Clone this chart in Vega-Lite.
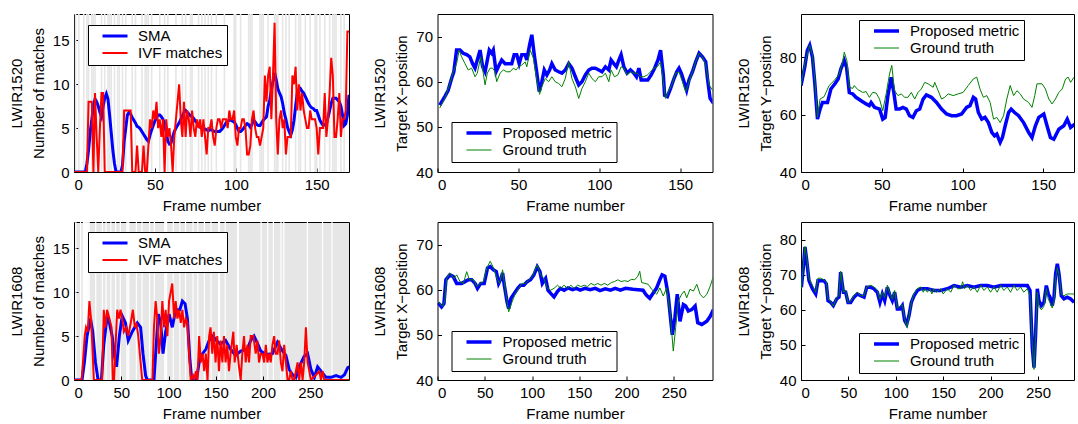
{
  "$schema": "https://vega.github.io/schema/vega-lite/v6.json",
  "padding": {"left": 8, "top": 12, "right": 0, "bottom": 0},
  "background": "white",
  "config": {
    "font": "Liberation Sans",
    "view": {"stroke": "black", "strokeWidth": 1},
    "axis": {"grid": false, "domain": false, "labelFont": "Liberation Sans", "labelFontSize": 15, "labelColor": "#000", "titleFont": "Liberation Sans", "titleFontSize": 15, "titleFontWeight": "normal", "titleColor": "#000", "tickColor": "#000", "tickSize": -4, "labelPadding": 9},
    "axisX": {"titlePadding": 6},
    "axisY": {"titlePadding": 6, "titleLineHeight": 22},
    "legend": {"labelFont": "Liberation Sans", "labelFontSize": 15, "labelColor": "#000", "strokeColor": "#000", "fillColor": "#fff", "padding": 4, "symbolSize": 625, "symbolType": "stroke", "symbolOffset": 9, "labelOffset": 9, "rowPadding": 2, "clipHeight": 14}
  },
  "datasets": {
    "g1520": [{"f":1},{"f":3},{"f":6},{"f":8},{"f":9},{"f":11},{"f":12},{"f":13},{"f":17},{"f":19},{"f":21},{"f":22},{"f":23},{"f":25},{"f":27},{"f":28},{"f":30},{"f":32},{"f":36},{"f":38},{"f":42},{"f":44},{"f":45},{"f":46},{"f":48},{"f":53},{"f":56},{"f":58},{"f":63},{"f":67},{"f":69},{"f":72},{"f":73},{"f":77},{"f":79},{"f":81},{"f":83},{"f":85},{"f":88},{"f":93},{"f":99},{"f":100},{"f":103},{"f":108},{"f":109},{"f":110},{"f":115},{"f":116},{"f":117},{"f":120},{"f":124},{"f":125},{"f":126},{"f":129},{"f":131},{"f":133},{"f":137},{"f":139},{"f":140},{"f":143},{"f":146},{"f":149},{"f":150},{"f":152},{"f":155},{"f":158},{"f":160},{"f":161},{"f":162},{"f":165},{"f":167}],
    "w1608": [{"f":2},{"f":7},{"f":10},{"f":11},{"f":12},{"f":13},{"f":14},{"f":15},{"f":16},{"f":23},{"f":30},{"f":34},{"f":39},{"f":44},{"f":49},{"f":56},{"f":57},{"f":58},{"f":66},{"f":72},{"f":80},{"f":85},{"f":96},{"f":97},{"f":98},{"f":105},{"f":112},{"f":118},{"f":126},{"f":131},{"f":138},{"f":145},{"f":153},{"f":154},{"f":160},{"f":173},{"f":174},{"f":198},{"f":205},{"f":211},{"f":219},{"f":222},{"f":247},{"f":263},{"f":273}],
    "m1520": [
      {"f":0,"SMA":0,"IVF matches":0},{"f":1,"SMA":0,"IVF matches":0},{"f":2,"SMA":0,"IVF matches":0},{"f":3,"SMA":0,"IVF matches":0},{"f":4,"SMA":0,"IVF matches":0},{"f":5,"SMA":0,"IVF matches":0},{"f":6,"SMA":0,"IVF matches":0},{"f":7,"SMA":0,"IVF matches":0},{"f":8,"SMA":1,"IVF matches":0},{"f":9,"SMA":2.5,"IVF matches":8},
      {"f":10,"SMA":4.5,"IVF matches":8},{"f":11,"SMA":6,"IVF matches":8},{"f":12,"SMA":7.5,"IVF matches":0},{"f":13,"SMA":8.3,"IVF matches":9},{"f":14,"SMA":8,"IVF matches":4},{"f":15,"SMA":7.5,"IVF matches":0},{"f":16,"SMA":6.8,"IVF matches":5},{"f":17,"SMA":6.3,"IVF matches":9},{"f":18,"SMA":7.5,"IVF matches":9},{"f":19,"SMA":8.4,"IVF matches":0},
      {"f":20,"SMA":8.9,"IVF matches":0},{"f":21,"SMA":8.3,"IVF matches":0},{"f":22,"SMA":6.5,"IVF matches":0},{"f":23,"SMA":4.5,"IVF matches":0},{"f":24,"SMA":2.5,"IVF matches":0},{"f":25,"SMA":1,"IVF matches":0},{"f":26,"SMA":0,"IVF matches":0},{"f":27,"SMA":0,"IVF matches":0},{"f":28,"SMA":0,"IVF matches":0},{"f":29,"SMA":0,"IVF matches":0},
      {"f":30,"SMA":0.8,"IVF matches":0},{"f":31,"SMA":3.5,"IVF matches":7},{"f":32,"SMA":5,"IVF matches":7},{"f":33,"SMA":6.5,"IVF matches":7},{"f":34,"SMA":6.8,"IVF matches":7},{"f":35,"SMA":6.6,"IVF matches":7},{"f":36,"SMA":6.2,"IVF matches":0},{"f":37,"SMA":5.9,"IVF matches":0},{"f":38,"SMA":5.6,"IVF matches":0},{"f":39,"SMA":5.2,"IVF matches":3},
      {"f":40,"SMA":5.1,"IVF matches":0},{"f":41,"SMA":4.9,"IVF matches":0},{"f":42,"SMA":4.6,"IVF matches":0},{"f":43,"SMA":4.3,"IVF matches":3},{"f":44,"SMA":4,"IVF matches":0},{"f":45,"SMA":3.7,"IVF matches":0},{"f":46,"SMA":3.5,"IVF matches":3},{"f":47,"SMA":4.2,"IVF matches":6},{"f":48,"SMA":4.8,"IVF matches":5},{"f":49,"SMA":5.3,"IVF matches":7},
      {"f":50,"SMA":5.8,"IVF matches":6},{"f":51,"SMA":6.2,"IVF matches":8},{"f":52,"SMA":6.5,"IVF matches":5},{"f":53,"SMA":6.5,"IVF matches":6},{"f":54,"SMA":6.3,"IVF matches":4},{"f":55,"SMA":6,"IVF matches":6},{"f":56,"SMA":5.5,"IVF matches":0},{"f":57,"SMA":4.5,"IVF matches":6},{"f":58,"SMA":3.5,"IVF matches":4},{"f":59,"SMA":3.2,"IVF matches":5},
      {"f":60,"SMA":3.3,"IVF matches":3},{"f":61,"SMA":4,"IVF matches":0},{"f":62,"SMA":4.6,"IVF matches":4},{"f":63,"SMA":5,"IVF matches":6},{"f":64,"SMA":5.3,"IVF matches":8},{"f":65,"SMA":5.6,"IVF matches":10},{"f":66,"SMA":6,"IVF matches":6},{"f":67,"SMA":6.4,"IVF matches":4},{"f":68,"SMA":6.8,"IVF matches":8},{"f":69,"SMA":7,"IVF matches":4},
      {"f":70,"SMA":6.8,"IVF matches":7},{"f":71,"SMA":6.6,"IVF matches":6},{"f":72,"SMA":6.4,"IVF matches":4},{"f":73,"SMA":6.3,"IVF matches":7},{"f":74,"SMA":6.1,"IVF matches":5},{"f":75,"SMA":5.8,"IVF matches":4},{"f":76,"SMA":5.6,"IVF matches":6},{"f":77,"SMA":5.3,"IVF matches":5},{"f":78,"SMA":5.1,"IVF matches":6},{"f":79,"SMA":5,"IVF matches":4},
      {"f":80,"SMA":5,"IVF matches":6},{"f":81,"SMA":4.9,"IVF matches":4},{"f":82,"SMA":4.8,"IVF matches":2},{"f":83,"SMA":4.7,"IVF matches":5},{"f":84,"SMA":4.8,"IVF matches":5},{"f":85,"SMA":4.8,"IVF matches":6},{"f":86,"SMA":4.7,"IVF matches":4},{"f":87,"SMA":4.6,"IVF matches":3},{"f":88,"SMA":4.6,"IVF matches":5},{"f":89,"SMA":4.6,"IVF matches":6},
      {"f":90,"SMA":4.6,"IVF matches":6},{"f":91,"SMA":4.8,"IVF matches":5},{"f":92,"SMA":5,"IVF matches":6},{"f":93,"SMA":5.3,"IVF matches":6},{"f":94,"SMA":5.6,"IVF matches":6},{"f":95,"SMA":5.8,"IVF matches":5},{"f":96,"SMA":5.9,"IVF matches":7},{"f":97,"SMA":5.9,"IVF matches":6},{"f":98,"SMA":5.8,"IVF matches":6},{"f":99,"SMA":5.7,"IVF matches":7},
      {"f":100,"SMA":5.4,"IVF matches":4},{"f":101,"SMA":5,"IVF matches":3},{"f":102,"SMA":4.6,"IVF matches":5},{"f":103,"SMA":4.6,"IVF matches":5},{"f":104,"SMA":4.8,"IVF matches":6},{"f":105,"SMA":5,"IVF matches":6},{"f":106,"SMA":5.3,"IVF matches":5},{"f":107,"SMA":5.5,"IVF matches":2},{"f":108,"SMA":5.4,"IVF matches":2},{"f":109,"SMA":5.1,"IVF matches":3},
      {"f":110,"SMA":5.4,"IVF matches":6},{"f":111,"SMA":5.9,"IVF matches":7},{"f":112,"SMA":5.7,"IVF matches":5},{"f":113,"SMA":5.4,"IVF matches":4},{"f":114,"SMA":5.3,"IVF matches":4},{"f":115,"SMA":5.3,"IVF matches":3},{"f":116,"SMA":5.6,"IVF matches":4},{"f":117,"SMA":5.9,"IVF matches":5},{"f":118,"SMA":6.1,"IVF matches":11},{"f":119,"SMA":6.3,"IVF matches":8},
      {"f":120,"SMA":7.5,"IVF matches":11},{"f":121,"SMA":8.2,"IVF matches":12},{"f":122,"SMA":9.3,"IVF matches":6},{"f":123,"SMA":10.3,"IVF matches":11},{"f":124,"SMA":11.3,"IVF matches":17},{"f":125,"SMA":10.5,"IVF matches":6},{"f":126,"SMA":9.5,"IVF matches":2},{"f":127,"SMA":9,"IVF matches":6},{"f":128,"SMA":8.6,"IVF matches":7},{"f":129,"SMA":7.8,"IVF matches":5},
      {"f":130,"SMA":6.7,"IVF matches":6},{"f":131,"SMA":6,"IVF matches":2},{"f":132,"SMA":5.1,"IVF matches":4},{"f":133,"SMA":4.6,"IVF matches":4},{"f":134,"SMA":4.2,"IVF matches":4},{"f":135,"SMA":4.8,"IVF matches":11},{"f":136,"SMA":5.9,"IVF matches":10},{"f":137,"SMA":7.5,"IVF matches":12},{"f":138,"SMA":9,"IVF matches":7},{"f":139,"SMA":9.3,"IVF matches":10},
      {"f":140,"SMA":9.5,"IVF matches":7},{"f":141,"SMA":9.2,"IVF matches":9},{"f":142,"SMA":9,"IVF matches":7},{"f":143,"SMA":8.6,"IVF matches":6},{"f":144,"SMA":8.2,"IVF matches":5},{"f":145,"SMA":7.8,"IVF matches":5},{"f":146,"SMA":7.5,"IVF matches":7},{"f":147,"SMA":7.3,"IVF matches":6},{"f":148,"SMA":7.2,"IVF matches":6},{"f":149,"SMA":7,"IVF matches":6},
      {"f":150,"SMA":7,"IVF matches":5},{"f":151,"SMA":6.5,"IVF matches":2},{"f":152,"SMA":5.9,"IVF matches":5},{"f":153,"SMA":5.6,"IVF matches":5},{"f":154,"SMA":5.3,"IVF matches":5},{"f":155,"SMA":5.4,"IVF matches":9},{"f":156,"SMA":5.5,"IVF matches":4},{"f":157,"SMA":6.2,"IVF matches":6},{"f":158,"SMA":7,"IVF matches":9},{"f":159,"SMA":7.8,"IVF matches":13},
      {"f":160,"SMA":8.4,"IVF matches":11},{"f":161,"SMA":8.4,"IVF matches":4},{"f":162,"SMA":8.4,"IVF matches":4},{"f":163,"SMA":8.2,"IVF matches":6},{"f":164,"SMA":8,"IVF matches":9},{"f":165,"SMA":7.5,"IVF matches":4},{"f":166,"SMA":6.5,"IVF matches":6},{"f":167,"SMA":5.3,"IVF matches":6},{"f":168,"SMA":5.5,"IVF matches":7},{"f":169,"SMA":6.5,"IVF matches":16},{"f":170,"SMA":8.8,"IVF matches":16}
    ],
    "m1608": [
      {"f":0,"SMA":0},{"f":8.5,"SMA":0},{"f":11,"SMA":2},{"f":13.8,"SMA":5},{"f":17.4,"SMA":7},{"f":19.8,"SMA":5.5},{"f":22.7,"SMA":2},{"f":25.5,"SMA":0},{"f":29,"SMA":0},{"f":31.5,"SMA":4},{"f":35,"SMA":7.2},{"f":37.5,"SMA":6.5},{"f":40.4,"SMA":5},{"f":43.2,"SMA":2.5},{"f":45,"SMA":1.5},{"f":48,"SMA":5},{"f":51,"SMA":7.3},{"f":54.5,"SMA":6.5},{"f":57.4,"SMA":4.5},{"f":61.6,"SMA":5.5},{"f":67,"SMA":6.5},{"f":70.5,"SMA":6},{"f":73,"SMA":3},{"f":75.8,"SMA":0.5},{"f":77.5,"SMA":0},{"f":84.6,"SMA":0},{"f":86.4,"SMA":3},{"f":89.2,"SMA":7.5},{"f":91.7,"SMA":6.5},{"f":94.2,"SMA":3},{"f":97,"SMA":5.5},{"f":100.6,"SMA":7.5},{"f":104,"SMA":6},{"f":107.6,"SMA":8},{"f":112,"SMA":8},{"f":114.7,"SMA":9},{"f":117.5,"SMA":8.7},{"f":120,"SMA":7},{"f":122.5,"SMA":2.5},{"f":124.6,"SMA":0},{"f":129.6,"SMA":0},{"f":132.4,"SMA":2},{"f":136,"SMA":3},{"f":139.5,"SMA":3.5},{"f":143,"SMA":4.5},{"f":147,"SMA":5},{"f":151.6,"SMA":4.4},{"f":155,"SMA":4.1},{"f":160.4,"SMA":4.5},{"f":165.7,"SMA":3.5},{"f":171,"SMA":2.8},{"f":176.4,"SMA":3.3},{"f":183.4,"SMA":3.5},{"f":187,"SMA":4.5},{"f":190.5,"SMA":5},{"f":194,"SMA":4.2},{"f":197.6,"SMA":3.3},{"f":203,"SMA":2.9},{"f":210,"SMA":3},{"f":215.3,"SMA":4.3},{"f":220.6,"SMA":3.3},{"f":224.2,"SMA":2.8},{"f":227.7,"SMA":1.2},{"f":231.3,"SMA":0.6},{"f":234.8,"SMA":0.3},{"f":238.3,"SMA":1.5},{"f":243.6,"SMA":2.7},{"f":247.2,"SMA":3},{"f":250.7,"SMA":1.2},{"f":254.3,"SMA":0.3},{"f":257.8,"SMA":1.5},{"f":261.4,"SMA":1},{"f":266.7,"SMA":0.3},{"f":272,"SMA":0.3},{"f":277.3,"SMA":0.5},{"f":282.6,"SMA":0.3},{"f":286.2,"SMA":0.6},{"f":289.7,"SMA":1.4},{"f":292,"SMA":1.5},
      {"f":0,"IVF matches":0},{"f":8,"IVF matches":0},{"f":9.5,"IVF matches":2},{"f":11.3,"IVF matches":5},{"f":12.7,"IVF matches":6},{"f":14.5,"IVF matches":5.5},{"f":16.3,"IVF matches":9},{"f":18,"IVF matches":7},{"f":19.8,"IVF matches":3},{"f":21,"IVF matches":0},{"f":29.7,"IVF matches":0},{"f":31.5,"IVF matches":8},{"f":33.3,"IVF matches":6},{"f":35,"IVF matches":8},{"f":37.5,"IVF matches":7},{"f":39.7,"IVF matches":6},{"f":41,"IVF matches":0},{"f":42.5,"IVF matches":0},{"f":44,"IVF matches":4},{"f":45.7,"IVF matches":8},{"f":47.5,"IVF matches":7},{"f":49.2,"IVF matches":8},{"f":51,"IVF matches":7},{"f":52.8,"IVF matches":5.5},{"f":55.2,"IVF matches":6},{"f":57.4,"IVF matches":5},{"f":60,"IVF matches":6.5},{"f":62.3,"IVF matches":8},{"f":64.4,"IVF matches":6},{"f":65.9,"IVF matches":6.5},{"f":68,"IVF matches":5},{"f":70.5,"IVF matches":2},{"f":72.2,"IVF matches":0},{"f":83,"IVF matches":0},{"f":84.6,"IVF matches":6},{"f":86.4,"IVF matches":9},{"f":88.2,"IVF matches":7},{"f":89.9,"IVF matches":3},{"f":91.7,"IVF matches":5},{"f":93.5,"IVF matches":9},{"f":95.3,"IVF matches":6},{"f":97,"IVF matches":8},{"f":98.8,"IVF matches":5},{"f":100.6,"IVF matches":9},{"f":102.3,"IVF matches":10},{"f":104,"IVF matches":11},{"f":105.9,"IVF matches":7},{"f":107.6,"IVF matches":9},{"f":109.4,"IVF matches":7},{"f":111.2,"IVF matches":8},{"f":113,"IVF matches":6.5},{"f":114.7,"IVF matches":8},{"f":116.5,"IVF matches":6},{"f":118.3,"IVF matches":7},{"f":120,"IVF matches":6.5},{"f":121.8,"IVF matches":3},{"f":123.6,"IVF matches":0},{"f":126,"IVF matches":0.5},{"f":127,"IVF matches":0},{"f":129,"IVF matches":1},{"f":130.7,"IVF matches":0},{"f":132.4,"IVF matches":5},{"f":134.2,"IVF matches":2},{"f":136,"IVF matches":3},{"f":137.8,"IVF matches":1},{"f":139.5,"IVF matches":3},{"f":141.3,"IVF matches":0},{"f":143,"IVF matches":5},{"f":144.5,"IVF matches":6},{"f":146.3,"IVF matches":3},{"f":148,"IVF matches":5.5},{"f":149.8,"IVF matches":2},{"f":151.6,"IVF matches":5},{"f":153.4,"IVF matches":1},{"f":155.1,"IVF matches":4.5},{"f":157,"IVF matches":2},{"f":158.7,"IVF matches":5},{"f":160.4,"IVF matches":2},{"f":162.2,"IVF matches":4},{"f":164,"IVF matches":1},{"f":165.7,"IVF matches":3},{"f":168.6,"IVF matches":5.5},{"f":170,"IVF matches":2},{"f":172.1,"IVF matches":4},{"f":174.6,"IVF matches":1.5},{"f":176.4,"IVF matches":0},{"f":178.1,"IVF matches":3},{"f":179.9,"IVF matches":5},{"f":181.7,"IVF matches":2},{"f":183.5,"IVF matches":4},{"f":185.2,"IVF matches":2},{"f":187,"IVF matches":5},{"f":189.8,"IVF matches":5},{"f":192.3,"IVF matches":3},{"f":194,"IVF matches":4.5},{"f":195.8,"IVF matches":2},{"f":197.6,"IVF matches":3},{"f":199.4,"IVF matches":3},{"f":201.2,"IVF matches":2},{"f":203,"IVF matches":4},{"f":204.7,"IVF matches":2},{"f":206.5,"IVF matches":3},{"f":208.2,"IVF matches":2},{"f":210,"IVF matches":4},{"f":211.8,"IVF matches":5},{"f":213.5,"IVF matches":3},{"f":215.3,"IVF matches":3},{"f":217.1,"IVF matches":4.5},{"f":218.9,"IVF matches":2},{"f":220.6,"IVF matches":1},{"f":222.4,"IVF matches":4},{"f":224.2,"IVF matches":2},{"f":226,"IVF matches":0},{"f":227.7,"IVF matches":0},{"f":229.5,"IVF matches":1},{"f":231.3,"IVF matches":0},{"f":233,"IVF matches":0},{"f":234.8,"IVF matches":1},{"f":236.6,"IVF matches":2},{"f":238.3,"IVF matches":0},{"f":240.1,"IVF matches":2},{"f":241.9,"IVF matches":0},{"f":243.6,"IVF matches":2},{"f":245.4,"IVF matches":6},{"f":247.2,"IVF matches":2},{"f":249,"IVF matches":1},{"f":250.7,"IVF matches":0},{"f":259.6,"IVF matches":1},{"f":261.4,"IVF matches":0},{"f":263.1,"IVF matches":1},{"f":264.9,"IVF matches":0},{"f":292,"IVF matches":0}
    ],
    "x1520": [
      {"f":1.4,"Proposed metric":54.8},{"f":4.5,"Proposed metric":56.7},{"f":6.6,"Proposed metric":58.1},{"f":8.7,"Proposed metric":60.7},{"f":10.1,"Proposed metric":62.2},{"f":11.8,"Proposed metric":67},{"f":13.9,"Proposed metric":67},{"f":15.9,"Proposed metric":66.3},{"f":18,"Proposed metric":66},{"f":20,"Proposed metric":65.5},{"f":21.7,"Proposed metric":64},{"f":23.2,"Proposed metric":63},{"f":24.6,"Proposed metric":64.8},{"f":26.3,"Proposed metric":67},{"f":27.9,"Proposed metric":63.3},{"f":29.4,"Proposed metric":62.2},{"f":30.8,"Proposed metric":64.8},{"f":32,"Proposed metric":67},{"f":33.5,"Proposed metric":66.3},{"f":34.5,"Proposed metric":67},{"f":36.2,"Proposed metric":62.2},{"f":37.6,"Proposed metric":63.3},{"f":39.7,"Proposed metric":64.8},{"f":41.8,"Proposed metric":64},{"f":43.8,"Proposed metric":64},{"f":45.9,"Proposed metric":64},{"f":47.4,"Proposed metric":66},{"f":49,"Proposed metric":66},{"f":50.5,"Proposed metric":64},{"f":52.1,"Proposed metric":66},{"f":54.2,"Proposed metric":66},{"f":55.2,"Proposed metric":64.8},{"f":56.9,"Proposed metric":68.1},{"f":58.3,"Proposed metric":70.4},{"f":59.8,"Proposed metric":66},{"f":61.4,"Proposed metric":61.9},{"f":62.9,"Proposed metric":57.8},{"f":64.5,"Proposed metric":60},{"f":66,"Proposed metric":62.6},{"f":67.6,"Proposed metric":61.5},{"f":69.3,"Proposed metric":62.6},{"f":70.7,"Proposed metric":64},{"f":72.8,"Proposed metric":62.6},{"f":74.9,"Proposed metric":62.2},{"f":76.9,"Proposed metric":61.9},{"f":79,"Proposed metric":62.6},{"f":81.1,"Proposed metric":64},{"f":83.1,"Proposed metric":63},{"f":85.2,"Proposed metric":61.1},{"f":87.3,"Proposed metric":59.3},{"f":89.3,"Proposed metric":60},{"f":91.4,"Proposed metric":61.5},{"f":93.5,"Proposed metric":62.6},{"f":95.5,"Proposed metric":63},{"f":97.6,"Proposed metric":63},{"f":99.7,"Proposed metric":62.6},{"f":101.7,"Proposed metric":62.2},{"f":103.8,"Proposed metric":63.3},{"f":105.9,"Proposed metric":62.6},{"f":107.3,"Proposed metric":64.8},{"f":109,"Proposed metric":64},{"f":110.6,"Proposed metric":63.3},{"f":112.1,"Proposed metric":64.8},{"f":113.5,"Proposed metric":66},{"f":115.2,"Proposed metric":63.3},{"f":117.2,"Proposed metric":61.9},{"f":119.3,"Proposed metric":62.6},{"f":121.4,"Proposed metric":61.9},{"f":123,"Proposed metric":61.1},{"f":124.5,"Proposed metric":63},{"f":125.9,"Proposed metric":60.4},{"f":128,"Proposed metric":60.4},{"f":130,"Proposed metric":60.4},{"f":132.1,"Proposed metric":61.5},{"f":134.2,"Proposed metric":63},{"f":136.3,"Proposed metric":64.8},{"f":137.9,"Proposed metric":67},{"f":139.6,"Proposed metric":61.5},{"f":140.4,"Proposed metric":57},{"f":142.1,"Proposed metric":56.7},{"f":144.1,"Proposed metric":58.5},{"f":146.2,"Proposed metric":60.7},{"f":147.9,"Proposed metric":62.2},{"f":149.3,"Proposed metric":63},{"f":150.7,"Proposed metric":61.9},{"f":152.4,"Proposed metric":60},{"f":154,"Proposed metric":58.1},{"f":155.5,"Proposed metric":60.4},{"f":157.6,"Proposed metric":62.2},{"f":159.6,"Proposed metric":64.4},{"f":161.7,"Proposed metric":66.3},{"f":163.8,"Proposed metric":65.5},{"f":165.8,"Proposed metric":64.4},{"f":166.9,"Proposed metric":60.7},{"f":168.5,"Proposed metric":56.3},{"f":170.6,"Proposed metric":55.2},
      {"f":1.4,"Ground truth":54.2},{"f":4.5,"Ground truth":56.3},{"f":7.7,"Ground truth":59.6},{"f":9.7,"Ground truth":62.2},{"f":11.8,"Ground truth":64},{"f":13.4,"Ground truth":67},{"f":14.9,"Ground truth":65.5},{"f":17,"Ground truth":64},{"f":19,"Ground truth":62.6},{"f":21.1,"Ground truth":63},{"f":23.2,"Ground truth":61.1},{"f":24.6,"Ground truth":61.9},{"f":26.7,"Ground truth":65.5},{"f":28.3,"Ground truth":61.9},{"f":29.4,"Ground truth":59.3},{"f":30.8,"Ground truth":61.9},{"f":32.5,"Ground truth":63},{"f":34.1,"Ground truth":63},{"f":35.6,"Ground truth":62.2},{"f":36.6,"Ground truth":60},{"f":38.7,"Ground truth":61.9},{"f":40.7,"Ground truth":62.6},{"f":42.8,"Ground truth":62.2},{"f":44.9,"Ground truth":62.2},{"f":46.9,"Ground truth":63},{"f":48.6,"Ground truth":62.6},{"f":50,"Ground truth":63.3},{"f":52.1,"Ground truth":63.7},{"f":54.2,"Ground truth":64.4},{"f":55.2,"Ground truth":63.3},{"f":57.3,"Ground truth":67},{"f":59.3,"Ground truth":65.2},{"f":61.4,"Ground truth":60.4},{"f":63.1,"Ground truth":57.2},{"f":64.5,"Ground truth":58.9},{"f":66.6,"Ground truth":60.7},{"f":68.7,"Ground truth":60},{"f":70.7,"Ground truth":61.1},{"f":72.8,"Ground truth":60},{"f":74.9,"Ground truth":59.6},{"f":76.9,"Ground truth":58.9},{"f":79,"Ground truth":60.7},{"f":81.1,"Ground truth":64.4},{"f":83.1,"Ground truth":60.7},{"f":85.2,"Ground truth":58.9},{"f":87.3,"Ground truth":56.3},{"f":89.3,"Ground truth":58.5},{"f":91.4,"Ground truth":60},{"f":93.5,"Ground truth":61.9},{"f":95.5,"Ground truth":60.7},{"f":97.6,"Ground truth":60},{"f":99.7,"Ground truth":61.1},{"f":101.7,"Ground truth":61.1},{"f":103.8,"Ground truth":61.9},{"f":105.9,"Ground truth":60},{"f":107.3,"Ground truth":62.6},{"f":109.4,"Ground truth":61.1},{"f":111.5,"Ground truth":61.5},{"f":113.5,"Ground truth":63.3},{"f":115.2,"Ground truth":63},{"f":117.2,"Ground truth":61.5},{"f":119.3,"Ground truth":62.2},{"f":121.4,"Ground truth":61.9},{"f":123.4,"Ground truth":61.9},{"f":125.5,"Ground truth":61.1},{"f":127.6,"Ground truth":61.1},{"f":129.7,"Ground truth":61.5},{"f":131.7,"Ground truth":62.2},{"f":133.8,"Ground truth":63},{"f":135.9,"Ground truth":63.3},{"f":137.9,"Ground truth":64.4},{"f":139.6,"Ground truth":60},{"f":141,"Ground truth":56.3},{"f":143.1,"Ground truth":58.1},{"f":145.2,"Ground truth":59.6},{"f":147.2,"Ground truth":61.9},{"f":149.3,"Ground truth":62.2},{"f":151.4,"Ground truth":60},{"f":153.4,"Ground truth":57.8},{"f":155.5,"Ground truth":60},{"f":157.6,"Ground truth":62.2},{"f":159.6,"Ground truth":64.4},{"f":161.7,"Ground truth":66.3},{"f":163.8,"Ground truth":65.5},{"f":165.8,"Ground truth":63.7},{"f":167.9,"Ground truth":59.3},{"f":170.6,"Ground truth":57.8}
    ],
    "y1520": [
      {"f":0,"Proposed metric":70.1},{"f":2.3,"Proposed metric":76.5},{"f":3.9,"Proposed metric":82.3},{"f":5.4,"Proposed metric":84.1},{"f":7.1,"Proposed metric":80},{"f":8.5,"Proposed metric":71.2},{"f":10.2,"Proposed metric":58.4},{"f":11.8,"Proposed metric":61.9},{"f":13.3,"Proposed metric":64.2},{"f":16.4,"Proposed metric":64.2},{"f":18.5,"Proposed metric":68.9},{"f":21,"Proposed metric":70.7},{"f":23,"Proposed metric":72.4},{"f":24.7,"Proposed metric":75.9},{"f":26.8,"Proposed metric":78.8},{"f":28.2,"Proposed metric":76.5},{"f":29.9,"Proposed metric":67.7},{"f":32,"Proposed metric":67.2},{"f":34,"Proposed metric":66},{"f":37.2,"Proposed metric":64.8},{"f":40.3,"Proposed metric":63.7},{"f":42.3,"Proposed metric":63.1},{"f":43.4,"Proposed metric":64.2},{"f":45.5,"Proposed metric":62.5},{"f":48.6,"Proposed metric":61.9},{"f":50.6,"Proposed metric":58.4},{"f":52.1,"Proposed metric":59},{"f":53.8,"Proposed metric":66.6},{"f":55.8,"Proposed metric":73},{"f":57.3,"Proposed metric":68.3},{"f":58.9,"Proposed metric":61.9},{"f":61,"Proposed metric":61.9},{"f":63.1,"Proposed metric":62.5},{"f":65.2,"Proposed metric":61.9},{"f":67.2,"Proposed metric":59.6},{"f":69.3,"Proposed metric":59},{"f":71.4,"Proposed metric":61.3},{"f":73.5,"Proposed metric":61.9},{"f":75.6,"Proposed metric":65.4},{"f":77.6,"Proposed metric":66.8},{"f":80.7,"Proposed metric":66},{"f":83.9,"Proposed metric":64.2},{"f":87,"Proposed metric":61.9},{"f":90.1,"Proposed metric":60.2},{"f":93.2,"Proposed metric":59.6},{"f":96.3,"Proposed metric":59.6},{"f":99.4,"Proposed metric":60.2},{"f":102.5,"Proposed metric":62.5},{"f":104.6,"Proposed metric":63.1},{"f":106.7,"Proposed metric":66},{"f":108.1,"Proposed metric":65.4},{"f":109.8,"Proposed metric":60.7},{"f":111.9,"Proposed metric":58.4},{"f":113.9,"Proposed metric":59},{"f":116,"Proposed metric":57.2},{"f":118.1,"Proposed metric":53.8},{"f":119.8,"Proposed metric":52.6},{"f":121.2,"Proposed metric":53.2},{"f":123.3,"Proposed metric":50.3},{"f":124.7,"Proposed metric":52},{"f":126.4,"Proposed metric":56.1},{"f":128.5,"Proposed metric":60.7},{"f":130.1,"Proposed metric":61.9},{"f":132.2,"Proposed metric":60.7},{"f":134.7,"Proposed metric":59.6},{"f":137.8,"Proposed metric":57.2},{"f":140.9,"Proposed metric":53.8},{"f":143,"Proposed metric":52},{"f":145.1,"Proposed metric":56.1},{"f":147.2,"Proposed metric":59},{"f":150.3,"Proposed metric":60.2},{"f":152.3,"Proposed metric":56.1},{"f":154.4,"Proposed metric":52},{"f":156.5,"Proposed metric":51.4},{"f":159.6,"Proposed metric":54.9},{"f":162.7,"Proposed metric":56.1},{"f":164.8,"Proposed metric":58.4},{"f":166.9,"Proposed metric":55.5},{"f":169.6,"Proposed metric":56.7},
      {"f":0,"Ground truth":70.1},{"f":2.3,"Ground truth":77.6},{"f":5.4,"Ground truth":84.1},{"f":7.1,"Ground truth":80.6},{"f":8.7,"Ground truth":71.2},{"f":10.2,"Ground truth":59},{"f":11.8,"Ground truth":65.4},{"f":14.3,"Ground truth":66.2},{"f":17.4,"Ground truth":70.1},{"f":20.5,"Ground truth":71.8},{"f":23.7,"Ground truth":74.1},{"f":25.7,"Ground truth":78.2},{"f":26.8,"Ground truth":81.7},{"f":28.4,"Ground truth":78.8},{"f":29.9,"Ground truth":69.5},{"f":32,"Ground truth":69.1},{"f":33,"Ground truth":70.1},{"f":35.1,"Ground truth":68.7},{"f":38.2,"Ground truth":67.7},{"f":40.3,"Ground truth":68},{"f":42.3,"Ground truth":66},{"f":44.4,"Ground truth":67.7},{"f":46.5,"Ground truth":67.5},{"f":48.6,"Ground truth":65.4},{"f":50.6,"Ground truth":61.3},{"f":52.7,"Ground truth":67.2},{"f":54.8,"Ground truth":74.1},{"f":56.2,"Ground truth":77.1},{"f":57.9,"Ground truth":68.3},{"f":60,"Ground truth":66.6},{"f":62.1,"Ground truth":67.2},{"f":64.1,"Ground truth":66},{"f":66.2,"Ground truth":66},{"f":68.3,"Ground truth":67.7},{"f":70.4,"Ground truth":65.4},{"f":72.4,"Ground truth":67.7},{"f":74.5,"Ground truth":68.9},{"f":76.6,"Ground truth":71.2},{"f":78.7,"Ground truth":70.7},{"f":81.8,"Ground truth":69.5},{"f":82.8,"Ground truth":71.2},{"f":84.9,"Ground truth":68.3},{"f":87,"Ground truth":65.4},{"f":89,"Ground truth":66},{"f":91.1,"Ground truth":67.2},{"f":94.2,"Ground truth":66.6},{"f":97.3,"Ground truth":67.2},{"f":100.4,"Ground truth":67.7},{"f":103.5,"Ground truth":70.1},{"f":106.7,"Ground truth":72.4},{"f":108.8,"Ground truth":73},{"f":110.8,"Ground truth":68.9},{"f":112.9,"Ground truth":66},{"f":115,"Ground truth":66.6},{"f":117.1,"Ground truth":64.2},{"f":119.2,"Ground truth":58.4},{"f":121.2,"Ground truth":59},{"f":123.3,"Ground truth":57.2},{"f":125.4,"Ground truth":59.6},{"f":127.4,"Ground truth":65.4},{"f":129.5,"Ground truth":70.1},{"f":131.6,"Ground truth":66.6},{"f":133.7,"Ground truth":68.3},{"f":135.7,"Ground truth":67.2},{"f":137.8,"Ground truth":65.4},{"f":140.9,"Ground truth":64.2},{"f":143,"Ground truth":62.5},{"f":144.7,"Ground truth":66.6},{"f":146.1,"Ground truth":70.7},{"f":149.2,"Ground truth":70.7},{"f":151.3,"Ground truth":68.9},{"f":153.4,"Ground truth":65.4},{"f":155.4,"Ground truth":63.7},{"f":157.5,"Ground truth":65.4},{"f":159.6,"Ground truth":67.7},{"f":161.7,"Ground truth":68.9},{"f":163.8,"Ground truth":72.4},{"f":165.4,"Ground truth":73},{"f":166.9,"Ground truth":71.2},{"f":169,"Ground truth":73}
    ],
    "x1608": [
      {"f":0.7,"Proposed metric":57.1},{"f":4.3,"Proposed metric":56.2},{"f":6.8,"Proposed metric":56.9},{"f":8.9,"Proposed metric":62.2},{"f":13.1,"Proposed metric":63.3},{"f":16.7,"Proposed metric":62.9},{"f":20.3,"Proposed metric":61.4},{"f":25.6,"Proposed metric":61.4},{"f":29.1,"Proposed metric":61.8},{"f":32.7,"Proposed metric":62.2},{"f":36.2,"Proposed metric":62.2},{"f":39.8,"Proposed metric":61.4},{"f":42.3,"Proposed metric":60.3},{"f":45.8,"Proposed metric":61.4},{"f":49.4,"Proposed metric":61.4},{"f":52.9,"Proposed metric":64.8},{"f":55.8,"Proposed metric":65.1},{"f":59.3,"Proposed metric":64.4},{"f":62.2,"Proposed metric":64},{"f":64.7,"Proposed metric":61.4},{"f":67.2,"Proposed metric":62.5},{"f":68.9,"Proposed metric":63.7},{"f":70.7,"Proposed metric":61},{"f":73.6,"Proposed metric":57.3},{"f":75.3,"Proposed metric":55.8},{"f":77.8,"Proposed metric":58.1},{"f":81.4,"Proposed metric":59.2},{"f":84.9,"Proposed metric":60.3},{"f":87.8,"Proposed metric":61},{"f":91.3,"Proposed metric":61},{"f":94.9,"Proposed metric":61.8},{"f":98.4,"Proposed metric":62.2},{"f":102,"Proposed metric":63.3},{"f":105.5,"Proposed metric":65.1},{"f":108.4,"Proposed metric":64},{"f":110.9,"Proposed metric":61.4},{"f":114.4,"Proposed metric":62.5},{"f":116.9,"Proposed metric":59.9},{"f":119.8,"Proposed metric":59.2},{"f":123.3,"Proposed metric":58.4},{"f":126.9,"Proposed metric":59.6},{"f":130,"Proposed metric":60.3},{"f":134,"Proposed metric":59.9},{"f":138,"Proposed metric":60.4},{"f":142.9,"Proposed metric":60},{"f":147,"Proposed metric":60.3},{"f":151,"Proposed metric":59.9},{"f":156,"Proposed metric":60.3},{"f":161.5,"Proposed metric":60},{"f":167,"Proposed metric":60.3},{"f":172,"Proposed metric":59.8},{"f":177.5,"Proposed metric":60.2},{"f":183,"Proposed metric":59.9},{"f":188,"Proposed metric":60.3},{"f":193.5,"Proposed metric":59.9},{"f":199,"Proposed metric":60.3},{"f":206.8,"Proposed metric":60.1},{"f":212.2,"Proposed metric":60},{"f":217.5,"Proposed metric":59.9},{"f":221,"Proposed metric":58.8},{"f":224.6,"Proposed metric":58.1},{"f":228.1,"Proposed metric":59.2},{"f":231.7,"Proposed metric":60.3},{"f":235.3,"Proposed metric":62.2},{"f":237.7,"Proposed metric":63.3},{"f":240.6,"Proposed metric":63},{"f":244,"Proposed metric":59},{"f":248.4,"Proposed metric":50},{"f":251.2,"Proposed metric":53.8},{"f":253.7,"Proposed metric":59},{"f":256.6,"Proposed metric":53},{"f":260.2,"Proposed metric":56.7},{"f":262.6,"Proposed metric":56.4},{"f":265.4,"Proposed metric":55.3},{"f":269,"Proposed metric":55.6},{"f":272.6,"Proposed metric":56.4},{"f":275.4,"Proposed metric":52.7},{"f":279.7,"Proposed metric":52.3},{"f":285,"Proposed metric":53},{"f":288.6,"Proposed metric":54.1},{"f":292,"Proposed metric":55.6},
      {"f":0.7,"Ground truth":57.3},{"f":5.3,"Ground truth":56.3},{"f":7.8,"Ground truth":57.7},{"f":9.6,"Ground truth":62.5},{"f":13.1,"Ground truth":63.7},{"f":17.4,"Ground truth":62.5},{"f":20.3,"Ground truth":63.3},{"f":23.8,"Ground truth":61.8},{"f":27.4,"Ground truth":61.4},{"f":30.9,"Ground truth":64},{"f":33.8,"Ground truth":62.2},{"f":38,"Ground truth":62.2},{"f":41.6,"Ground truth":60.7},{"f":45.1,"Ground truth":61.4},{"f":48.7,"Ground truth":61.8},{"f":52.2,"Ground truth":64.8},{"f":55.8,"Ground truth":66.3},{"f":59.3,"Ground truth":64.8},{"f":62.9,"Ground truth":62.5},{"f":65.7,"Ground truth":61.4},{"f":68.9,"Ground truth":64.4},{"f":71.8,"Ground truth":59.9},{"f":75.3,"Ground truth":55.1},{"f":78.9,"Ground truth":57.3},{"f":82.4,"Ground truth":59.2},{"f":86,"Ground truth":60.3},{"f":89.6,"Ground truth":61.4},{"f":93.1,"Ground truth":61.4},{"f":96.7,"Ground truth":62.2},{"f":100.2,"Ground truth":62.9},{"f":105.5,"Ground truth":65.5},{"f":109.1,"Ground truth":63.3},{"f":112.6,"Ground truth":62.5},{"f":116.2,"Ground truth":60.3},{"f":119.8,"Ground truth":59.9},{"f":123.3,"Ground truth":60.3},{"f":126.9,"Ground truth":61},{"f":130.4,"Ground truth":60.3},{"f":134,"Ground truth":61},{"f":137.5,"Ground truth":60.3},{"f":141.1,"Ground truth":61},{"f":144.6,"Ground truth":60.3},{"f":148.2,"Ground truth":61},{"f":151.7,"Ground truth":60.7},{"f":155.3,"Ground truth":61},{"f":158.8,"Ground truth":60.7},{"f":162.4,"Ground truth":61.4},{"f":166,"Ground truth":61},{"f":169.5,"Ground truth":61.4},{"f":173.1,"Ground truth":61},{"f":176.6,"Ground truth":61.4},{"f":180.2,"Ground truth":61},{"f":184,"Ground truth":61.6},{"f":187.3,"Ground truth":61.8},{"f":190.8,"Ground truth":62.2},{"f":194.4,"Ground truth":61.8},{"f":198,"Ground truth":62},{"f":201.5,"Ground truth":61.8},{"f":205,"Ground truth":62.3},{"f":208.6,"Ground truth":62.2},{"f":212,"Ground truth":63},{"f":214,"Ground truth":64.1},{"f":216,"Ground truth":61.6},{"f":223,"Ground truth":61.2},{"f":226.6,"Ground truth":60.1},{"f":232,"Ground truth":59},{"f":235.3,"Ground truth":60.4},{"f":238.9,"Ground truth":58.6},{"f":242.4,"Ground truth":60.4},{"f":246,"Ground truth":55.3},{"f":249.5,"Ground truth":46.4},{"f":252,"Ground truth":51.6},{"f":254.8,"Ground truth":57.5},{"f":258.4,"Ground truth":59},{"f":261.2,"Ground truth":59.7},{"f":263.7,"Ground truth":58.2},{"f":267.2,"Ground truth":60.1},{"f":270.8,"Ground truth":59.7},{"f":274.4,"Ground truth":61.2},{"f":277.9,"Ground truth":59},{"f":281.5,"Ground truth":58.2},{"f":285,"Ground truth":59},{"f":288.6,"Ground truth":60.8},{"f":292,"Ground truth":63}
    ],
    "y1608": [
      {"f":0.4,"Proposed metric":66.4},{"f":2.5,"Proposed metric":72.2},{"f":4.2,"Proposed metric":77.9},{"f":6,"Proposed metric":74.1},{"f":8.4,"Proposed metric":68.3},{"f":12,"Proposed metric":66},{"f":15.5,"Proposed metric":64.5},{"f":17.9,"Proposed metric":68.3},{"f":20.7,"Proposed metric":68.3},{"f":24.3,"Proposed metric":68.3},{"f":26.7,"Proposed metric":67.4},{"f":28.5,"Proposed metric":62.6},{"f":31.3,"Proposed metric":62.1},{"f":34.1,"Proposed metric":61.2},{"f":37.6,"Proposed metric":63.1},{"f":40.1,"Proposed metric":63.6},{"f":41.8,"Proposed metric":70.7},{"f":44.7,"Proposed metric":65},{"f":47.1,"Proposed metric":65},{"f":49.6,"Proposed metric":62.1},{"f":52.4,"Proposed metric":62.1},{"f":55.9,"Proposed metric":63.6},{"f":59.4,"Proposed metric":64.5},{"f":62.9,"Proposed metric":64},{"f":66.5,"Proposed metric":63.6},{"f":69.3,"Proposed metric":66.4},{"f":73.5,"Proposed metric":66.4},{"f":77,"Proposed metric":66},{"f":80.5,"Proposed metric":65},{"f":83.3,"Proposed metric":62.1},{"f":85.8,"Proposed metric":64.5},{"f":88.3,"Proposed metric":62.6},{"f":91.1,"Proposed metric":66.4},{"f":93.9,"Proposed metric":64},{"f":96.3,"Proposed metric":62.6},{"f":98.8,"Proposed metric":65},{"f":101.6,"Proposed metric":60.2},{"f":104.4,"Proposed metric":60.2},{"f":106.9,"Proposed metric":61.2},{"f":109.4,"Proposed metric":56.9},{"f":111.5,"Proposed metric":55.9},{"f":113.9,"Proposed metric":58.3},{"f":116.4,"Proposed metric":62.1},{"f":119.2,"Proposed metric":64},{"f":122.7,"Proposed metric":65.5},{"f":126.2,"Proposed metric":66},{"f":133.3,"Proposed metric":66},{"f":140.3,"Proposed metric":65.5},{"f":147.3,"Proposed metric":65.5},{"f":154.4,"Proposed metric":66},{"f":161.4,"Proposed metric":66.9},{"f":168.4,"Proposed metric":66.4},{"f":175.5,"Proposed metric":66.9},{"f":182.5,"Proposed metric":66.4},{"f":189.5,"Proposed metric":66.9},{"f":196.6,"Proposed metric":66.9},{"f":203.6,"Proposed metric":66.4},{"f":210.6,"Proposed metric":66.9},{"f":217.6,"Proposed metric":66.9},{"f":224.7,"Proposed metric":66.9},{"f":231.7,"Proposed metric":66.9},{"f":238.8,"Proposed metric":66.9},{"f":241.6,"Proposed metric":65.5},{"f":244,"Proposed metric":49.3},{"f":245.8,"Proposed metric":43.5},{"f":247.5,"Proposed metric":53.1},{"f":249.3,"Proposed metric":66},{"f":251,"Proposed metric":62.6},{"f":253.5,"Proposed metric":61.2},{"f":256.3,"Proposed metric":62.1},{"f":258.8,"Proposed metric":66.9},{"f":260.9,"Proposed metric":64.5},{"f":262.7,"Proposed metric":63.6},{"f":265.1,"Proposed metric":61.2},{"f":266.9,"Proposed metric":63.6},{"f":268.6,"Proposed metric":70.2},{"f":270.4,"Proposed metric":73.1},{"f":272.2,"Proposed metric":70.2},{"f":274.6,"Proposed metric":64},{"f":277.4,"Proposed metric":63.1},{"f":280.9,"Proposed metric":63.6},{"f":284.5,"Proposed metric":63.1},{"f":288,"Proposed metric":62.1},
      {"f":0.4,"Ground truth":66},{"f":2.5,"Ground truth":73},{"f":4.2,"Ground truth":78},{"f":6,"Ground truth":75},{"f":8.4,"Ground truth":69},{"f":12,"Ground truth":67},{"f":15.5,"Ground truth":65},{"f":17.9,"Ground truth":69},{"f":20.7,"Ground truth":69},{"f":24.3,"Ground truth":68.5},{"f":26.7,"Ground truth":68},{"f":28.5,"Ground truth":63},{"f":31.3,"Ground truth":62.5},{"f":34.1,"Ground truth":61},{"f":37.6,"Ground truth":63.5},{"f":40.1,"Ground truth":64},{"f":41.8,"Ground truth":71},{"f":44.7,"Ground truth":65},{"f":47.1,"Ground truth":65.5},{"f":49.6,"Ground truth":62},{"f":52.4,"Ground truth":62.5},{"f":55.9,"Ground truth":64},{"f":59.4,"Ground truth":65},{"f":62.9,"Ground truth":64},{"f":66.5,"Ground truth":64},{"f":69.3,"Ground truth":66.5},{"f":73.5,"Ground truth":67},{"f":77,"Ground truth":66.5},{"f":80.5,"Ground truth":65.5},{"f":83.3,"Ground truth":63},{"f":85.8,"Ground truth":65},{"f":88.3,"Ground truth":63.5},{"f":91.1,"Ground truth":67},{"f":93.9,"Ground truth":64.5},{"f":96.3,"Ground truth":63},{"f":98.8,"Ground truth":65.5},{"f":101.6,"Ground truth":60.5},{"f":104.4,"Ground truth":61},{"f":106.9,"Ground truth":61.5},{"f":109.4,"Ground truth":57.5},{"f":111.5,"Ground truth":55},{"f":113.9,"Ground truth":58},{"f":116.4,"Ground truth":62},{"f":119.2,"Ground truth":64.5},{"f":122.7,"Ground truth":66},{"f":126.2,"Ground truth":66.5},{"f":129,"Ground truth":65},{"f":131,"Ground truth":66},{"f":133.3,"Ground truth":65},{"f":136,"Ground truth":66},{"f":138,"Ground truth":64.5},{"f":140.3,"Ground truth":66},{"f":143,"Ground truth":65},{"f":147.3,"Ground truth":66},{"f":150,"Ground truth":64.5},{"f":154.4,"Ground truth":66},{"f":158,"Ground truth":65},{"f":161.4,"Ground truth":67},{"f":165,"Ground truth":66},{"f":168.4,"Ground truth":66},{"f":170.5,"Ground truth":68},{"f":172.5,"Ground truth":66},{"f":175.5,"Ground truth":67},{"f":179,"Ground truth":65.5},{"f":182.5,"Ground truth":66.5},{"f":186,"Ground truth":65},{"f":189.5,"Ground truth":67},{"f":193,"Ground truth":65.5},{"f":196.6,"Ground truth":66.5},{"f":200,"Ground truth":65},{"f":203.6,"Ground truth":66.5},{"f":207,"Ground truth":65},{"f":210.6,"Ground truth":67},{"f":214,"Ground truth":65.5},{"f":217.6,"Ground truth":66.5},{"f":221,"Ground truth":65},{"f":224.7,"Ground truth":67},{"f":228,"Ground truth":65.5},{"f":231.7,"Ground truth":66.5},{"f":235,"Ground truth":65},{"f":238.8,"Ground truth":66},{"f":241.6,"Ground truth":64},{"f":244,"Ground truth":50},{"f":245.8,"Ground truth":43},{"f":247.5,"Ground truth":52},{"f":249.3,"Ground truth":65},{"f":251,"Ground truth":61},{"f":253.5,"Ground truth":60},{"f":256.3,"Ground truth":61},{"f":258.8,"Ground truth":66},{"f":260.9,"Ground truth":63},{"f":262.7,"Ground truth":62},{"f":265.1,"Ground truth":60.5},{"f":266.9,"Ground truth":62.5},{"f":268.6,"Ground truth":69},{"f":270.4,"Ground truth":72},{"f":272.2,"Ground truth":70},{"f":274.6,"Ground truth":64.5},{"f":277.4,"Ground truth":64},{"f":280.9,"Ground truth":64.5},{"f":284.5,"Ground truth":64.5},{"f":288,"Ground truth":64.5}
    ]
  },
  "columns": 3,
  "spacing": {"row": 50, "column": 88.5},
  "bounds": "flush",
  "resolve": {"scale": {"color": "independent", "strokeWidth": "independent"}, "legend": {"color": "independent", "strokeWidth": "independent"}},
  "concat": [
    {
      "width": 275, "height": 158,
      "layer": [
        {"data": {"name": "g1520"}, "mark": {"type": "rule", "color": "#e6e6e6", "strokeWidth": 1.6},
         "encoding": {"x": {"field": "f", "type": "quantitative", "scale": {"domain": [0, 170]}, "title": "Frame number"}}},
        {"data": {"name": "m1520"},
         "transform": [{"fold": ["SMA", "IVF matches"], "as": ["key", "value"]}, {"filter": "isValid(datum.value)"}],
         "mark": {"type": "line", "clip": true},
         "encoding": {
           "x": {"field": "f", "type": "quantitative", "scale": {"domain": [0, 170]}, "axis": {"values": [0, 50, 100, 150], "format": "d"}, "title": "Frame number"},
           "y": {"field": "value", "type": "quantitative", "scale": {"domain": [0, 18]}, "axis": {"values": [0, 5, 10, 15], "format": "d"}, "title": ["LWIR1520", "Number of matches"]},
           "color": {"field": "key", "type": "nominal", "scale": {"domain": ["SMA", "IVF matches"], "range": ["#0000ff", "#ff0000"]}, "legend": {"title": null, "orient": "none", "legendX": 14, "legendY": 11, "labelExpr": "datum.label + '\u00a0\u00a0\u00a0'"}},
           "strokeWidth": {"field": "key", "type": "nominal", "scale": {"domain": ["SMA", "IVF matches"], "range": [3, 2]}, "legend": {"title": null, "orient": "none", "legendX": 14, "legendY": 11, "labelExpr": "datum.label + '\u00a0\u00a0\u00a0'"}}
         }}
      ]
    },
    {
      "width": 275, "height": 158,
      "data": {"name": "x1520"},
      "transform": [{"fold": ["Proposed metric", "Ground truth"], "as": ["key", "value"]}, {"filter": "isValid(datum.value)"}],
      "mark": {"type": "line", "clip": true},
      "encoding": {
        "x": {"field": "f", "type": "quantitative", "scale": {"domain": [0, 170]}, "axis": {"values": [0, 50, 100, 150], "format": "d"}, "title": "Frame number"},
        "y": {"field": "value", "type": "quantitative", "scale": {"domain": [40, 75]}, "axis": {"values": [40, 50, 60, 70], "format": "d"}, "title": ["LWIR1520", "Target X\u2212position"]},
        "color": {"field": "key", "type": "nominal", "scale": {"domain": ["Proposed metric", "Ground truth"], "range": ["#0000ff", "#008000"]}, "legend": {"title": null, "orient": "none", "legendX": 14, "legendY": 108, "labelExpr": "datum.label + '\u00a0'"}},
        "strokeWidth": {"field": "key", "type": "nominal", "scale": {"domain": ["Proposed metric", "Ground truth"], "range": [3.5, 1]}, "legend": {"title": null, "orient": "none", "legendX": 14, "legendY": 108, "labelExpr": "datum.label + '\u00a0'"}}
      }
    },
    {
      "width": 273, "height": 158,
      "data": {"name": "y1520"},
      "transform": [{"fold": ["Proposed metric", "Ground truth"], "as": ["key", "value"]}, {"filter": "isValid(datum.value)"}],
      "mark": {"type": "line", "clip": true},
      "encoding": {
        "x": {"field": "f", "type": "quantitative", "scale": {"domain": [0, 169]}, "axis": {"values": [0, 50, 100, 150], "format": "d"}, "title": "Frame number"},
        "y": {"field": "value", "type": "quantitative", "scale": {"domain": [40, 95]}, "axis": {"values": [40, 60, 80], "format": "d"}, "title": ["LWIR1520", "Target Y\u2212position"]},
        "color": {"field": "key", "type": "nominal", "scale": {"domain": ["Proposed metric", "Ground truth"], "range": ["#0000ff", "#008000"]}, "legend": {"title": null, "orient": "none", "legendX": 58, "legendY": 6, "labelExpr": "datum.label + '\u00a0'"}},
        "strokeWidth": {"field": "key", "type": "nominal", "scale": {"domain": ["Proposed metric", "Ground truth"], "range": [3.5, 1]}, "legend": {"title": null, "orient": "none", "legendX": 58, "legendY": 6, "labelExpr": "datum.label + '\u00a0'"}}
      }
    },
    {
      "width": 275, "height": 158,
      "view": {"fill": "#e6e6e6"},
      "layer": [
        {"data": {"name": "w1608"}, "mark": {"type": "rule", "color": "#ffffff", "strokeWidth": 1.2},
         "encoding": {"x": {"field": "f", "type": "quantitative", "scale": {"domain": [0, 291]}, "title": "Frame number"}}},
        {"data": {"name": "m1608"},
         "transform": [{"fold": ["SMA", "IVF matches"], "as": ["key", "value"]}, {"filter": "isValid(datum.value)"}],
         "mark": {"type": "line", "clip": true},
         "encoding": {
           "x": {"field": "f", "type": "quantitative", "scale": {"domain": [0, 291]}, "axis": {"values": [0, 50, 100, 150, 200, 250], "format": "d"}, "title": "Frame number"},
           "y": {"field": "value", "type": "quantitative", "scale": {"domain": [0, 18]}, "axis": {"values": [0, 5, 10, 15], "format": "d"}, "title": ["LWIR1608", "Number of matches"]},
           "color": {"field": "key", "type": "nominal", "scale": {"domain": ["SMA", "IVF matches"], "range": ["#0000ff", "#ff0000"]}, "legend": {"title": null, "orient": "none", "legendX": 14, "legendY": 10, "labelExpr": "datum.label + '\u00a0\u00a0\u00a0'"}},
           "strokeWidth": {"field": "key", "type": "nominal", "scale": {"domain": ["SMA", "IVF matches"], "range": [3, 2]}, "legend": {"title": null, "orient": "none", "legendX": 14, "legendY": 10, "labelExpr": "datum.label + '\u00a0\u00a0\u00a0'"}}
         }}
      ]
    },
    {
      "width": 275, "height": 158,
      "data": {"name": "x1608"},
      "transform": [{"fold": ["Proposed metric", "Ground truth"], "as": ["key", "value"]}, {"filter": "isValid(datum.value)"}],
      "mark": {"type": "line", "clip": true},
      "encoding": {
        "x": {"field": "f", "type": "quantitative", "scale": {"domain": [0, 291]}, "axis": {"values": [0, 50, 100, 150, 200, 250], "format": "d"}, "title": "Frame number"},
        "y": {"field": "value", "type": "quantitative", "scale": {"domain": [40, 75]}, "axis": {"values": [40, 50, 60, 70], "format": "d"}, "title": ["LWIR1608", "Target X\u2212position"]},
        "color": {"field": "key", "type": "nominal", "scale": {"domain": ["Proposed metric", "Ground truth"], "range": ["#0000ff", "#008000"]}, "legend": {"title": null, "orient": "none", "legendX": 14, "legendY": 109, "labelExpr": "datum.label + '\u00a0'"}},
        "strokeWidth": {"field": "key", "type": "nominal", "scale": {"domain": ["Proposed metric", "Ground truth"], "range": [3.5, 1]}, "legend": {"title": null, "orient": "none", "legendX": 14, "legendY": 109, "labelExpr": "datum.label + '\u00a0'"}}
      }
    },
    {
      "width": 273, "height": 158,
      "data": {"name": "y1608"},
      "transform": [{"fold": ["Proposed metric", "Ground truth"], "as": ["key", "value"]}, {"filter": "isValid(datum.value)"}],
      "mark": {"type": "line", "clip": true},
      "encoding": {
        "x": {"field": "f", "type": "quantitative", "scale": {"domain": [0, 288]}, "axis": {"values": [0, 50, 100, 150, 200, 250], "format": "d"}, "title": "Frame number"},
        "y": {"field": "value", "type": "quantitative", "scale": {"domain": [40, 85]}, "axis": {"values": [40, 50, 60, 70, 80], "format": "d"}, "title": ["LWIR1608", "Target Y\u2212position"]},
        "color": {"field": "key", "type": "nominal", "scale": {"domain": ["Proposed metric", "Ground truth"], "range": ["#0000ff", "#008000"]}, "legend": {"title": null, "orient": "none", "legendX": 58, "legendY": 111, "labelExpr": "datum.label + '\u00a0'"}},
        "strokeWidth": {"field": "key", "type": "nominal", "scale": {"domain": ["Proposed metric", "Ground truth"], "range": [3.5, 1]}, "legend": {"title": null, "orient": "none", "legendX": 58, "legendY": 111, "labelExpr": "datum.label + '\u00a0'"}}
      }
    }
  ]
}
